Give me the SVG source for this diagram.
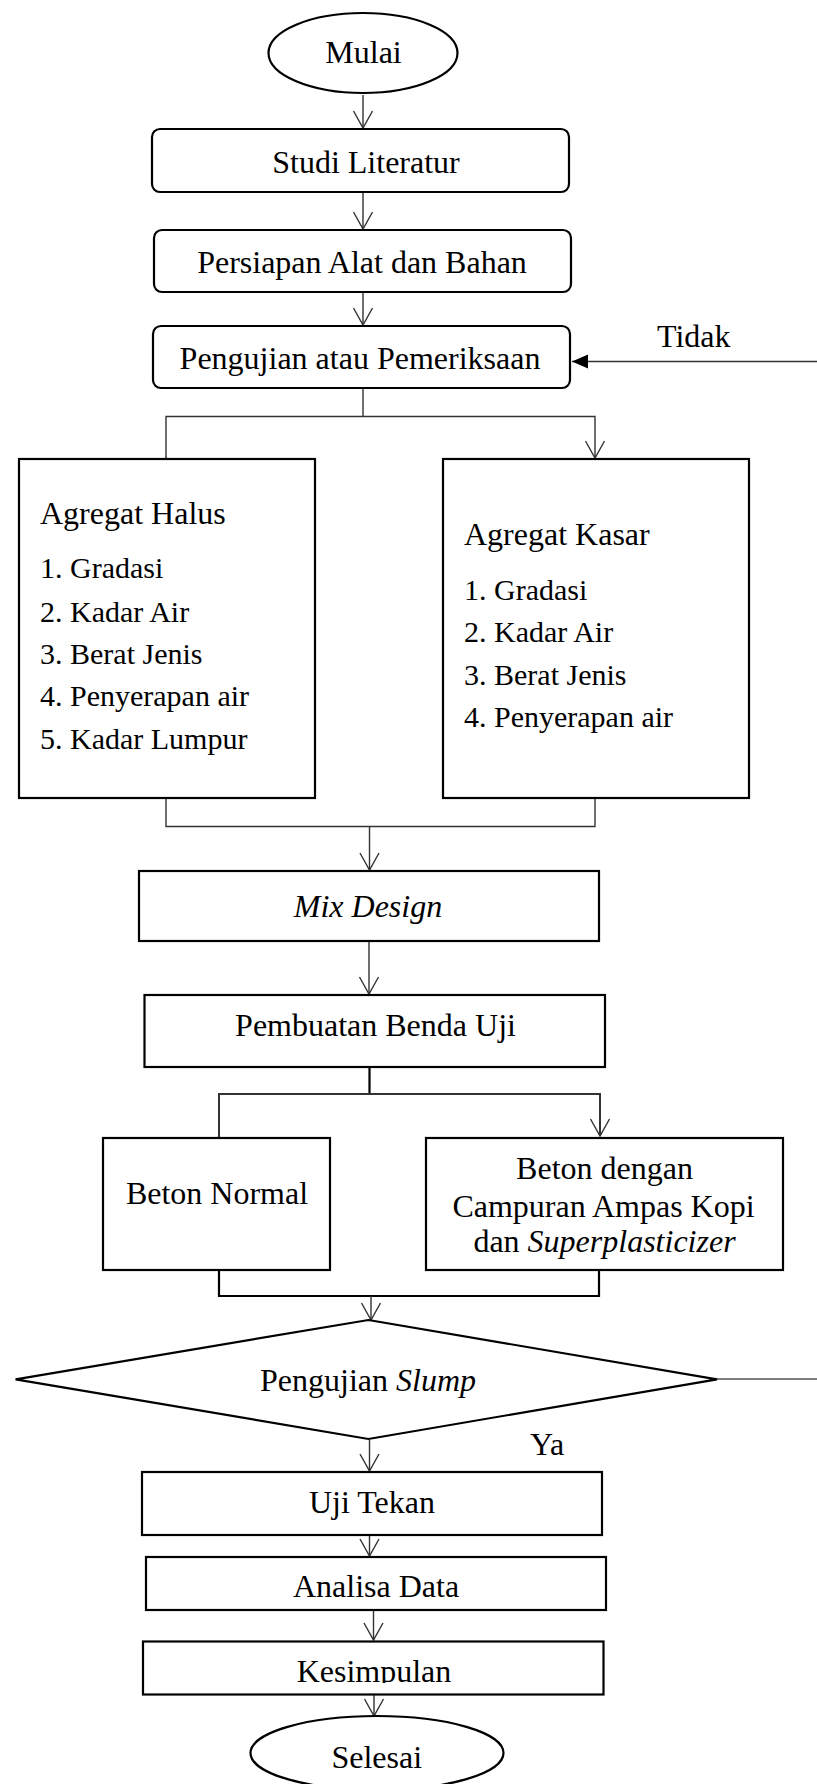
<svg xmlns="http://www.w3.org/2000/svg" width="817" height="1784" viewBox="0 0 817 1784">
<style>
text{font-family:"Liberation Serif","Times New Roman",serif;font-size:32px;fill:#000}
.c{text-anchor:middle}
.li{font-size:30px}
.it{font-style:italic}
.box{fill:#fff;stroke:#000;stroke-width:2.2}
.con{fill:none;stroke:#333;stroke-width:1.4}
</style>
<defs>
<marker id="open" markerUnits="userSpaceOnUse" markerWidth="20" markerHeight="22" viewBox="0 0 20 22" refX="18" refY="10" orient="auto" overflow="visible">
<path d="M1,0.5 L18,10 L1,19.5" fill="none" stroke="#333" stroke-width="1.4"/>
</marker>
<marker id="solid" markerUnits="userSpaceOnUse" markerWidth="18" markerHeight="16" viewBox="0 0 18 16" refX="16" refY="7" orient="auto" overflow="visible">
<path d="M0,0 L16,7 L0,14 z" fill="#000"/>
</marker>
<clipPath id="kclip"><rect x="143" y="1641" width="461" height="42"/></clipPath>
</defs>

<g id="connectors">
<line class="con" x1="363" y1="95" x2="363" y2="128" marker-end="url(#open)"/>
<line class="con" x1="363" y1="192" x2="363" y2="229" marker-end="url(#open)"/>
<line class="con" x1="363" y1="292" x2="363" y2="325" marker-end="url(#open)"/>
<line class="con" x1="817" y1="361.5" x2="572" y2="361.5" marker-end="url(#solid)"/>
<polyline class="con" points="363,388 363,416.5"/>
<polyline class="con" points="166,458 166,416.5 595,416.5 595,458" marker-start="url(#open)" marker-end="url(#open)"/>
<polyline class="con" points="166,798 166,826.5 595,826.5 595,798"/>
<line class="con" x1="369.5" y1="826.5" x2="369.5" y2="870" marker-end="url(#open)"/>
<line class="con" x1="369" y1="941" x2="369" y2="994" marker-end="url(#open)"/>
<polyline class="con" points="369.5,1067 369.5,1094" style="stroke-width:2.2;stroke:#000"/>
<polyline class="con" points="219,1136 219,1094 600,1094 600,1136" marker-start="url(#open)" marker-end="url(#open)" style="stroke-width:2"/>
<polyline class="con" points="219,1270 219,1296 599,1296 599,1270" style="stroke-width:2.2;stroke:#000"/>
<line class="con" x1="371" y1="1296" x2="371" y2="1320" marker-end="url(#open)"/>
<line class="con" x1="369.5" y1="1440" x2="369.5" y2="1471" marker-end="url(#open)"/>
<line class="con" x1="717" y1="1379" x2="817" y2="1379" style="stroke:#555"/>
<line class="con" x1="369.5" y1="1535" x2="369.5" y2="1556" marker-end="url(#open)"/>
<line class="con" x1="373.5" y1="1610" x2="373.5" y2="1640" marker-end="url(#open)"/>
<line class="con" x1="374" y1="1695" x2="374" y2="1716" marker-end="url(#open)"/>
</g>

<g id="mulai">
<ellipse class="box" cx="363" cy="53" rx="94.5" ry="40"/>
<text class="c" x="363.5" y="63">Mulai</text>
</g>
<g id="studi">
<rect class="box" x="152" y="129" width="417" height="63" rx="8"/>
<text class="c" x="366" y="173">Studi Literatur</text>
</g>
<g id="persiapan">
<rect class="box" x="154" y="230" width="417" height="62" rx="8"/>
<text class="c" x="362" y="273">Persiapan Alat dan Bahan</text>
</g>
<g id="pengujian">
<rect class="box" x="153" y="326" width="417" height="62" rx="8"/>
<text class="c" x="360" y="369">Pengujian atau Pemeriksaan</text>
</g>
<g id="tidak">
<text x="657" y="347">Tidak</text>
</g>
<g id="agregat-halus">
<rect class="box" x="19" y="459" width="296" height="339"/>
<text x="40" y="524">Agregat Halus</text>
<text class="li" x="40" y="578">1. Gradasi</text>
<text class="li" x="40" y="621.5">2. Kadar Air</text>
<text class="li" x="40" y="664">3. Berat Jenis</text>
<text class="li" x="40" y="706">4. Penyerapan air</text>
<text class="li" x="40" y="749">5. Kadar Lumpur</text>
</g>
<g id="agregat-kasar">
<rect class="box" x="443" y="459" width="306" height="339"/>
<text x="464" y="545">Agregat Kasar</text>
<text class="li" x="464" y="600">1. Gradasi</text>
<text class="li" x="464" y="642">2. Kadar Air</text>
<text class="li" x="464" y="685">3. Berat Jenis</text>
<text class="li" x="464" y="727">4. Penyerapan air</text>
</g>
<g id="mix-design">
<rect class="box" x="139" y="871" width="460" height="70"/>
<text class="c it" x="368" y="917">Mix Design</text>
</g>
<g id="pembuatan">
<rect class="box" x="144.5" y="995" width="460.5" height="72"/>
<text class="c" x="375.5" y="1036">Pembuatan Benda Uji</text>
</g>
<g id="beton-normal">
<rect class="box" x="103" y="1138" width="227" height="132"/>
<text class="c" x="217" y="1204">Beton Normal</text>
</g>
<g id="beton-campuran">
<rect class="box" x="426" y="1138" width="357" height="132"/>
<text class="c" x="604.5" y="1179">Beton dengan</text>
<text class="c" x="603.5" y="1216.5">Campuran Ampas Kopi</text>
<text class="c" x="604.5" y="1252">dan <tspan class="it">Superplasticizer</tspan></text>
</g>
<g id="slump">
<polygon class="box" points="368.4,1320 717,1379.3 368.4,1439 15.6,1379.3"/>
<text class="c" x="368" y="1390.5">Pengujian <tspan class="it">Slump</tspan></text>
</g>
<g id="ya">
<text x="530" y="1455">Ya</text>
</g>
<g id="uji-tekan">
<rect class="box" x="142" y="1472" width="460" height="63"/>
<text class="c" x="372" y="1512.5">Uji Tekan</text>
</g>
<g id="analisa">
<rect class="box" x="146" y="1557" width="460" height="53"/>
<text class="c" x="376" y="1597">Analisa Data</text>
</g>
<g id="kesimpulan">
<rect class="box" x="143" y="1641.5" width="460.5" height="53"/>
<text class="c" x="374" y="1682" clip-path="url(#kclip)">Kesimpulan</text>
</g>
<g id="selesai">
<ellipse class="box" cx="377" cy="1753" rx="126.5" ry="37"/>
<text class="c" x="376.7" y="1768">Selesai</text>
</g>
</svg>
